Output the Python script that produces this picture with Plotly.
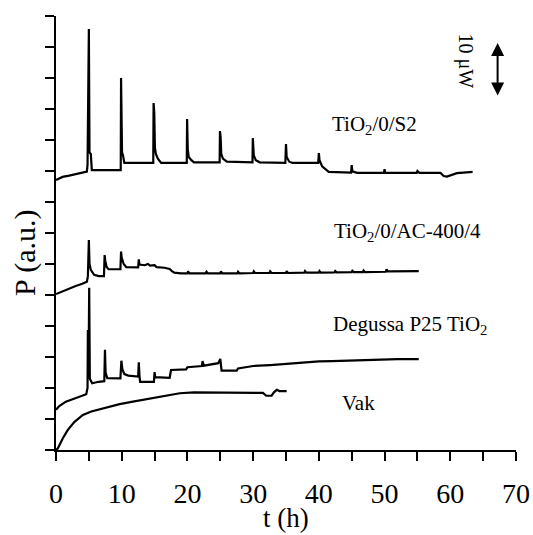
import plotly.graph_objects as go

# ---- data ----
s2_t = [0, 1, 2, 3, 4, 4.7, 4.8, 4.85, 4.9, 5.0, 5.1, 5.3, 5.45, 9.85, 9.9, 10.0, 10.05, 10.2, 10.4,
        14.8, 14.85, 14.95, 15.05, 15.2, 15.5, 16, 19.9, 19.95, 20.05, 20.2, 20.6, 21.0,
        24.9, 24.95, 25.05, 25.15, 25.4, 26, 29.9, 29.95, 30.1, 30.4, 31, 34.9, 35.0, 35.1, 35.5, 36,
        39.9, 40.0, 40.1, 40.5, 41, 41.5, 44.9, 45.0, 45.1, 45.8, 49.9, 50.0, 50.1, 54.9, 55.0, 55.3,
        58.5, 59, 59.5, 60, 61, 62, 63.4]
s2_v = [8.71, 8.81, 8.85, 8.90, 8.95, 8.98, 9.2, 11.3, 9.6, 13.58, 9.6, 9.55, 9.03, 9.03, 12.0, 10.4, 9.6, 9.5, 9.26,
        9.26, 11.19, 10.9, 9.75, 9.55, 9.4, 9.26, 9.26, 10.68, 9.7, 9.45, 9.35, 9.28,
        9.28, 10.29, 10.1, 9.55, 9.4, 9.3, 9.28, 10.06, 9.5, 9.35, 9.28, 9.26, 9.87, 9.45, 9.3, 9.26,
        9.26, 9.58, 9.35, 9.15, 9.05, 8.97, 8.95, 9.19, 8.99, 8.94, 8.94, 9.06, 8.95, 8.94, 9.0, 8.94,
        8.94, 8.84, 8.82, 8.86, 8.93, 8.95, 8.97]

ac_t = [0, 1, 2, 3, 4, 4.7, 4.85, 5.0, 5.1, 5.3, 5.8, 6.5, 7.3, 7.4, 7.5, 7.7, 8.0, 9.8, 9.9, 10.0, 10.3, 10.7,
        12.5, 12.6, 12.7, 13.5, 14, 14.3, 15, 15.3, 16.5, 17.3, 17.6, 18, 19, 20, 20.1, 20.3,
        22.8, 22.9, 23.1, 25, 25.1, 25.3, 27.6, 27.7, 27.9, 30, 30.1, 30.3, 32.5, 32.6, 32.8,
        35, 35.1, 35.3, 37.8, 37.9, 38.1, 40, 40.1, 40.3, 42.4, 42.5, 42.7, 45, 45.1, 45.3,
        46.7, 46.8, 47.0, 50.2, 50.3, 50.5, 55.2]
ac_v = [5.03, 5.12, 5.2, 5.29, 5.36, 5.43, 5.6, 6.77, 6.0, 5.81, 5.65, 5.61, 5.61, 6.29, 6.1, 5.9, 5.83, 5.83, 6.40, 6.2, 6.0, 5.9,
        5.89, 6.15, 5.98, 5.96, 6.0, 5.95, 5.96, 5.9, 5.88, 5.84, 5.78, 5.72, 5.70, 5.70, 5.76, 5.70,
        5.70, 5.75, 5.70, 5.70, 5.76, 5.70, 5.70, 5.75, 5.70, 5.71, 5.76, 5.71, 5.71, 5.76, 5.71,
        5.71, 5.77, 5.71, 5.72, 5.77, 5.72, 5.72, 5.77, 5.72, 5.73, 5.77, 5.73, 5.74, 5.78, 5.74,
        5.74, 5.79, 5.74, 5.75, 5.83, 5.76, 5.77]

dg_t = [0, 0.5, 1.5, 2.5, 3.5, 4.6, 4.8, 4.85, 4.95, 5.05, 5.15, 5.5, 6.5, 7.35, 7.45, 7.55, 7.8, 9.8, 9.95, 10.1, 10.4, 11,
        12.5, 12.6, 12.7, 12.8, 14.9, 15.0, 15.1, 17.3, 17.5, 19.8, 20.0, 22.2, 22.3, 22.5, 24.7, 25.0, 25.2,
        27.5, 27.7, 30, 32.6, 35, 37.5, 40, 42, 45, 50, 52, 55.2]
dg_v = [1.3, 1.42, 1.56, 1.64, 1.7, 1.8, 2.0, 3.87, 2.5, 5.23, 2.3, 2.15, 2.2, 2.22, 3.23, 2.5, 2.32, 2.31, 2.88, 2.6, 2.45, 2.4,
        2.37, 2.83, 2.4, 2.2, 2.2, 2.51, 2.35, 2.33, 2.58, 2.6, 2.67, 2.71, 2.87, 2.72, 2.8, 2.94, 2.56,
        2.56, 2.63, 2.71, 2.74, 2.78, 2.84, 2.86, 2.87, 2.89, 2.9, 2.93, 2.93]

vak_t = [0, 0.27, 1.04, 1.8, 2.82, 4.09, 5.37, 6.63, 8.16, 9.68, 11.7, 13.76, 15.76, 18.84, 21, 23, 25.5, 29,
         31.5, 32.0, 32.8, 33.2, 33.6, 34.0, 35.1]
vak_v = [0.0, 0.05, 0.38, 0.65, 0.91, 1.13, 1.24, 1.31, 1.40, 1.48, 1.56, 1.64, 1.70, 1.83, 1.86, 1.86, 1.86, 1.85,
         1.84, 1.75, 1.75, 1.87, 1.94, 1.9, 1.9]

x_ticks = [0, 10, 20, 30, 40, 50, 60, 70]
FONT = "Liberation Serif"

fig = go.Figure()
for t, v in [(s2_t, s2_v), (ac_t, ac_v), (dg_t, dg_v), (vak_t, vak_v)]:
    fig.add_trace(go.Scatter(x=t, y=v, mode="lines", line=dict(color="black", width=2.2),
                             showlegend=False, hoverinfo="skip"))

labels = [
    ("TiO<sub>2</sub>/0/S2", 48.4, 10.48),
    ("TiO<sub>2</sub>/0/AC-400/4", 53.45, 7.03),
    ("Degussa P25 TiO<sub>2</sub>", 53.8, 4.03),
    ("Vak", 46.1, 1.52),
]
for txt, x, y in labels:
    fig.add_annotation(x=x, y=y, text=txt, showarrow=False, xanchor="center", yanchor="middle",
                       font=dict(family=FONT, size=21, color="black"))

fig.add_annotation(x=62.3, y=12.55, text="10 μW", showarrow=False, textangle=90,
                   font=dict(family=FONT, size=20, color="black"))
fig.add_annotation(x=67.2, y=13.13, ax=67.2, ay=11.39, axref="x", ayref="y", text="",
                   showarrow=True, arrowside="end+start", arrowhead=2, arrowsize=1.3,
                   arrowwidth=2, arrowcolor="black", standoff=0, startstandoff=0)

# axis titles
fig.add_annotation(xref="paper", yref="paper", x=-0.0675, y=0.454, text="P (a.u.)", showarrow=False,
                   textangle=-90, xanchor="center", yanchor="middle",
                   font=dict(family=FONT, size=30, color="black"))
fig.add_annotation(xref="paper", yref="paper", x=0.5, y=-0.157, text="t (h)", showarrow=False,
                   xanchor="center", yanchor="middle",
                   font=dict(family=FONT, size=27, color="black"))

fig.update_layout(
    width=533, height=535,
    margin=dict(l=56, r=17, t=16, b=85),
    paper_bgcolor="white", plot_bgcolor="white",
    font=dict(family=FONT, color="black"),
)
fig.update_xaxes(range=[0, 70], tickvals=x_ticks, ticktext=[str(v) for v in x_ticks],
                 automargin=False,
                 showline=True, linecolor="black", linewidth=2, ticks="outside", ticklen=9,
                 tickwidth=2, tickcolor="black", showgrid=False, zeroline=False,
                 minor=dict(dtick=5, tick0=0, ticks="outside", ticklen=9, tickwidth=2, tickcolor="black", showgrid=False),
                 tickfont=dict(family=FONT, size=28, color="black"), ticklabelstandoff=8)
fig.update_yaxes(range=[0, 14], dtick=1, tick0=0, showticklabels=False, automargin=False,
                 showline=True, linecolor="black", linewidth=2, ticks="outside", ticklen=9,
                 tickwidth=2, tickcolor="black", showgrid=False, zeroline=False)

fig.write_html("out.html")
